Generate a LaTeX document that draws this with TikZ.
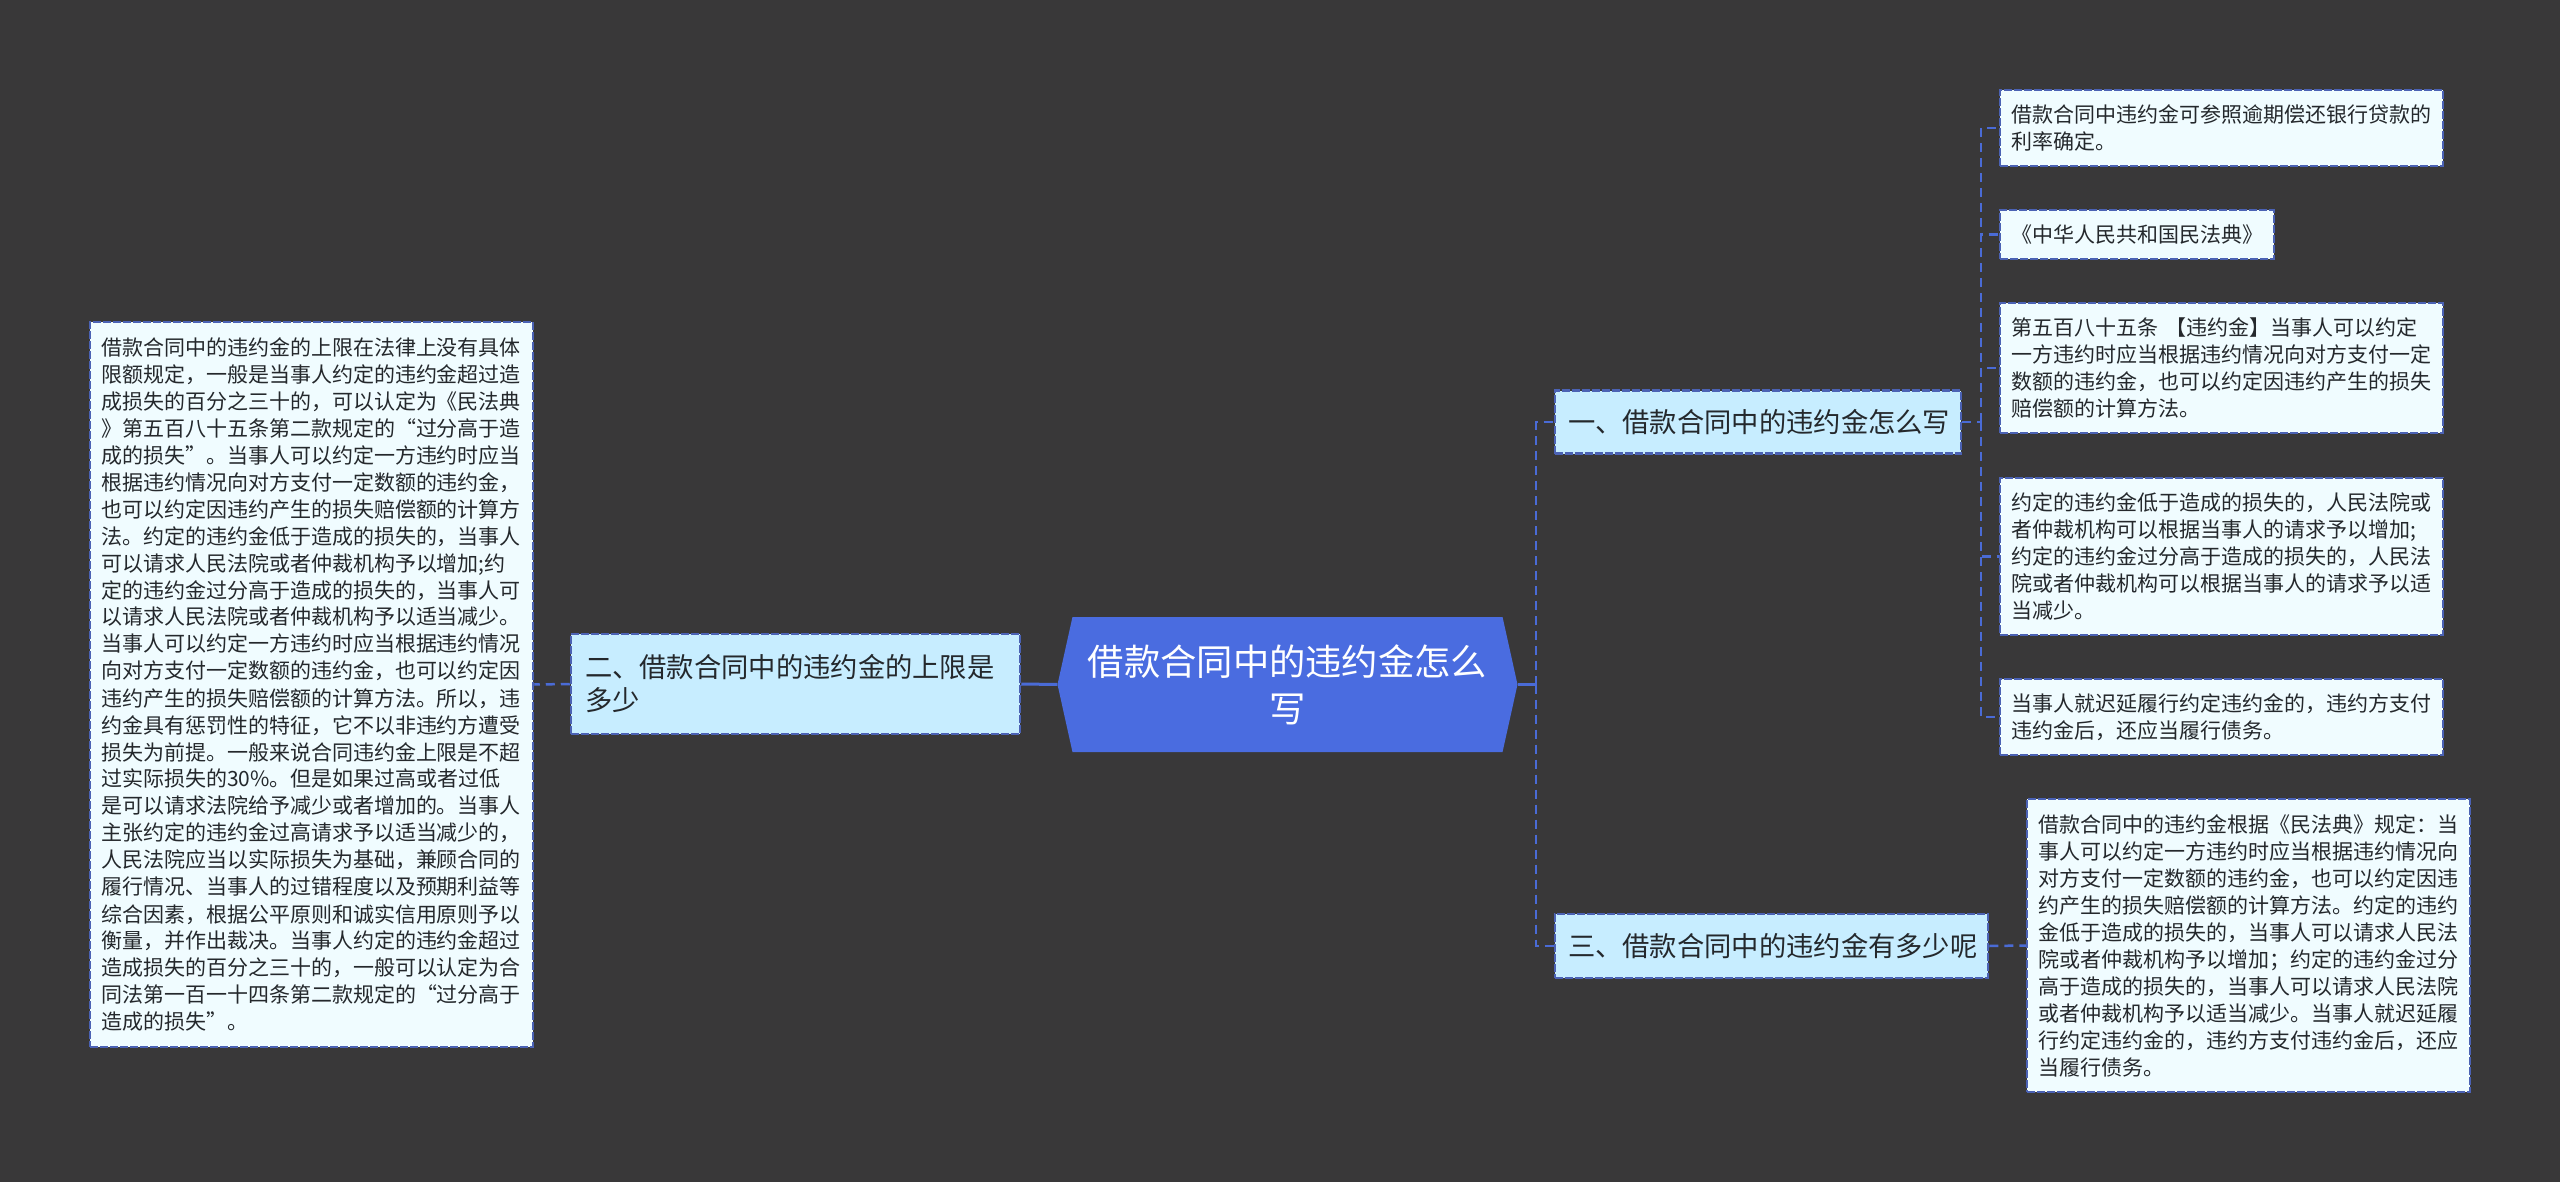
\documentclass[tikz,border=0pt]{standalone}
\usepackage{fontspec}
\setmainfont{Noto Sans CJK SC}
\usetikzlibrary{shapes.symbols}
\definecolor{DarkGround}{HTML}{393839}
\definecolor{RootBlue}{HTML}{4A6CE0}
\definecolor{EdgeBlue}{HTML}{4B62B4}
\definecolor{LinkBlue}{HTML}{4A6BD6}
\definecolor{BranchFill}{HTML}{C7EDFF}
\definecolor{LeafFill}{HTML}{F0FCFF}
\definecolor{InkDark}{HTML}{24282C}
\tikzset{
  boxed/.style={rectangle,draw=EdgeBlue,line width=2.5pt,dash pattern=on 8pt off 2pt,
    inner sep=0pt,align=left,text=InkDark},
  leaf/.style={boxed,fill=LeafFill,minimum width=443pt,text width=421pt,
    font=\fontsize{21}{27}\selectfont},
  branch/.style={boxed,fill=BranchFill,font=\fontsize{27.3}{33}\selectfont},
  link/.style={LinkBlue,line width=2.5pt,dash pattern=on 9pt off 6pt}
}
\begin{document}
\begin{tikzpicture}[x=1pt,y=-1pt]
  \useasboundingbox (0,0) rectangle (2560,1182);
  \fill[DarkGround] (0,0) rectangle (2560,1182);

  \coordinate (TrunkRight) at (1536,684.5);
  \coordinate (TrunkOne)   at (1981,422);

  % centre
  \node[signal,signal to=west and east,signal pointer angle=155,fill=RootBlue,text=white,
    minimum width=460pt,minimum height=135pt,inner sep=0pt,align=center,
    font=\fontsize{36.3}{47}\selectfont] (Root) at (1287.5,684.5)
    {借款合同中的违约金怎么\\写};

  % branches
  \node[branch,minimum width=406pt,minimum height=63pt,text width=380pt] (BranchOne) at (1758,422)
    {一、借款合同中的违约金怎么写};
  \node[branch,minimum width=449pt,minimum height=100pt,text width=421pt] (BranchTwo) at (795.5,684)
    {二、借款合同中的违约金的上限是\\多少};
  \node[branch,minimum width=433pt,minimum height=64pt,text width=407pt] (BranchThree) at (1771.5,946)
    {三、借款合同中的违约金有多少呢};

  % leaves
  \node[leaf,minimum height=76pt] (LeafOne) at (2221.5,128)
    {借款合同中违约金可参照逾期偿还银行贷款的\\利率确定。};
  \node[leaf,minimum width=274pt,text width=252pt,minimum height=49pt] (LeafTwo) at (2137,234.5)
    {《中华人民共和国民法典》};
  \node[leaf,minimum height=130pt] (LeafThree) at (2221.5,368)
    {第五百八十五条 【违约金】当事人可以约定\\一方违约时应当根据违约情况向对方支付一定\\数额的违约金，也可以约定因违约产生的损失\\赔偿额的计算方法。};
  \node[leaf,minimum height=157pt] (LeafFour) at (2221.5,556.5)
    {约定的违约金低于造成的损失的，人民法院或\\者仲裁机构可以根据当事人的请求予以增加;\\约定的违约金过分高于造成的损失的，人民法\\院或者仲裁机构可以根据当事人的请求予以适\\当减少。};
  \node[leaf,minimum height=76pt] (LeafFive) at (2221.5,717)
    {当事人就迟延履行约定违约金的，违约方支付\\违约金后，还应当履行债务。};
  \node[leaf,minimum height=293pt] (LeafSix) at (2248.5,945.5)
    {借款合同中的违约金根据《民法典》规定：当\\事人可以约定一方违约时应当根据违约情况向\\对方支付一定数额的违约金，也可以约定因违\\约产生的损失赔偿额的计算方法。约定的违约\\金低于造成的损失的，当事人可以请求人民法\\院或者仲裁机构予以增加；约定的违约金过分\\高于造成的损失的，当事人可以请求人民法院\\或者仲裁机构予以适当减少。当事人就迟延履\\行约定违约金的，违约方支付违约金后，还应\\当履行债务。};
  \node[leaf,minimum height=725pt] (LeafLeft) at (311.5,684.5)
    {借款合同中的违约金的上限在法律上没有具体\\限额规定，一般是当事人约定的违约金超过造\\成损失的百分之三十的，可以认定为《民法典\\》第五百八十五条第二款规定的“过分高于造\\成的损失”。当事人可以约定一方违约时应当\\根据违约情况向对方支付一定数额的违约金，\\也可以约定因违约产生的损失赔偿额的计算方\\法。约定的违约金低于造成的损失的，当事人\\可以请求人民法院或者仲裁机构予以增加;约\\定的违约金过分高于造成的损失的，当事人可\\以请求人民法院或者仲裁机构予以适当减少。\\当事人可以约定一方违约时应当根据违约情况\\向对方支付一定数额的违约金，也可以约定因\\违约产生的损失赔偿额的计算方法。所以，违\\约金具有惩罚性的特征，它不以非违约方遭受\\损失为前提。一般来说合同违约金上限是不超\\过实际损失的30\%。但是如果过高或者过低\\是可以请求法院给予减少或者增加的。当事人\\主张约定的违约金过高请求予以适当减少的，\\人民法院应当以实际损失为基础，兼顾合同的\\履行情况、当事人的过错程度以及预期利益等\\综合因素，根据公平原则和诚实信用原则予以\\衡量，并作出裁决。当事人约定的违约金超过\\造成损失的百分之三十的，一般可以认定为合\\同法第一百一十四条第二款规定的“过分高于\\造成的损失”。};

  % connectors
  \draw[LinkBlue,line width=3pt] (Root.east) -- (TrunkRight);
  \draw[LinkBlue,line width=3pt] (Root.west) -- (BranchTwo.east);
  \draw[link] (TrunkRight) |- (BranchOne.west);
  \draw[link] (TrunkRight) |- (BranchThree.west);
  \draw[link] (BranchTwo.west) -- (LeafLeft.east);
  \draw[link] (BranchThree.east) -- (LeafSix.west);
  \draw[link] (BranchOne.east) -- (TrunkOne);
  \foreach \leafname in {LeafOne,LeafTwo,LeafThree,LeafFour,LeafFive}{%
    \draw[link] (TrunkOne) |- (\leafname.west);
  }
\end{tikzpicture}
\end{document}
